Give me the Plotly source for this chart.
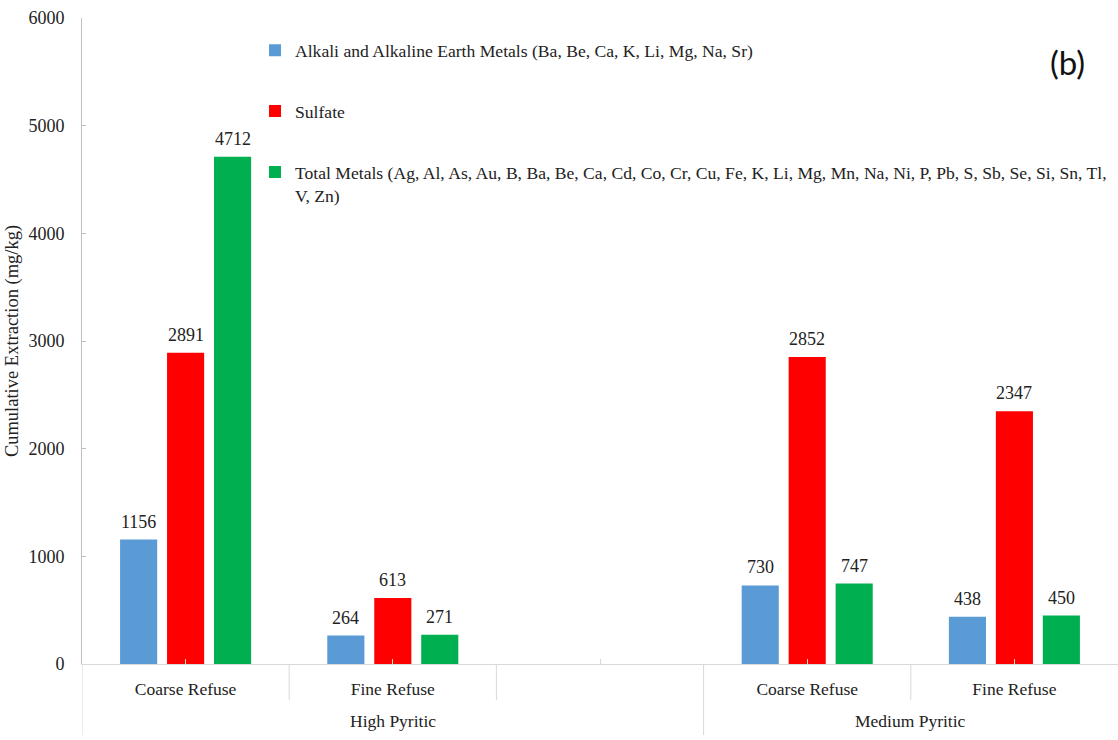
import plotly.graph_objects as go

# Category layout: two pyritic groups, each with coarse / fine refuse columns
refuse_labels = ["Coarse Refuse", "Fine Refuse", "", "Coarse Refuse", "Fine Refuse"]
group_labels = ["High Pyritic", "Medium Pyritic"]
group_centers = [1.0, 3.5]

series_names = [
    "Alkali and Alkaline Earth Metals (Ba, Be, Ca, K, Li, Mg, Na, Sr)",
    "Sulfate",
    "Total Metals (Ag, Al, As, Au, B, Ba, Be, Ca, Cd, Co, Cr, Cu, Fe, K, Li, Mg, Mn, Na, Ni, P, Pb, S, Sb, Se, Si, Sn, Tl,<br>V, Zn)",
]
alkali = [1156, 264, None, 730, 438]
sulfate = [2891, 613, None, 2852, 2347]
total_metals = [4712, 271, None, 747, 450]
colors = ["#5B9BD5", "#FF0000", "#00B050"]

FONT = "Liberation Serif, Times New Roman, serif"
BARGAP = 0.32
BARGROUPGAP = 0.21

x_pos = list(range(len(refuse_labels)))
fig = go.Figure()
all_series = [alkali, sulfate, total_metals]
for k, (name, vals, col) in enumerate(zip(series_names, all_series, colors)):
    fig.add_trace(go.Bar(
        x=x_pos, y=vals, name=name, legendgroup=f"g{k}",
        marker=dict(color=col, line=dict(width=0)),
    ))

# value labels above each bar
slot = (1 - BARGAP) / 3
annotations = []
for k, vals in enumerate(all_series):
    for i, v in enumerate(vals):
        if v is None:
            continue
        annotations.append(dict(
            x=i + (k - 1) * slot, y=v, xref="x", yref="y",
            text=str(v), showarrow=False, yanchor="bottom", yshift=6,
            font=dict(family=FONT, size=18, color="#222222"),
        ))

# outer group labels
for g, c in zip(group_labels, group_centers):
    annotations.append(dict(
        x=c, y=-0.088, xref="x", yref="paper", text=g, showarrow=False,
        yanchor="middle", font=dict(family=FONT, size=17.5, color="#222222"),
    ))

annotations.append(dict(
    x=0.951, y=0.932, xref="paper", yref="paper", text="(b)", showarrow=False,
    xanchor="center", yanchor="middle",
    font=dict(family="Lato, Open Sans, sans-serif", size=33, color="#111111"),
))

# category separators under the axis
shapes = []
for xb, depth in [(-0.5, -0.11), (0.5, -0.056), (1.5, -0.056), (2.5, -0.11), (3.5, -0.056)]:
    shapes.append(dict(type="line", xref="x", yref="paper", x0=xb, x1=xb, y0=0, y1=depth,
                       line=dict(color="#D9D9D9", width=1)))

fig.update_layout(
    width=1118, height=740,
    margin=dict(l=82, r=0, t=18, b=76),
    paper_bgcolor="white", plot_bgcolor="white",
    barmode="group", bargap=BARGAP, bargroupgap=BARGROUPGAP,
    font=dict(family=FONT, size=17, color="#222222"),
    showlegend=True,
    legend=dict(
        x=0.167, y=0.978, xanchor="left", yanchor="top",
        traceorder="grouped", tracegroupgap=35, valign="top",
        itemwidth=30,
        font=dict(family=FONT, size=17.6, color="#222222"),
        bgcolor="rgba(0,0,0,0)",
    ),
    annotations=annotations,
    shapes=shapes,
)
fig.update_xaxes(
    range=[-0.5, 4.5], tickmode="array", tickvals=x_pos, ticktext=refuse_labels,
    showline=True, linecolor="#D9D9D9", linewidth=1,
    ticks="inside", ticklen=5, tickcolor="#D9D9D9",
    showgrid=False, zeroline=False, ticklabelstandoff=9,
    tickfont=dict(family=FONT, size=17.5, color="#222222"),
)
fig.update_yaxes(
    range=[0, 6000], dtick=1000, tickformat="d",
    showline=True, linecolor="#BFBFBF", linewidth=1,
    ticks="inside", ticklen=4, tickcolor="#BFBFBF",
    showgrid=False, zeroline=False, ticklabelstandoff=13,
    tickfont=dict(family=FONT, size=18, color="#222222"),
    title=dict(text="Cumulative Extraction (mg/kg)", font=dict(family=FONT, size=18.5, color="#222222"), standoff=4),
)

fig.write_html("out.html")
